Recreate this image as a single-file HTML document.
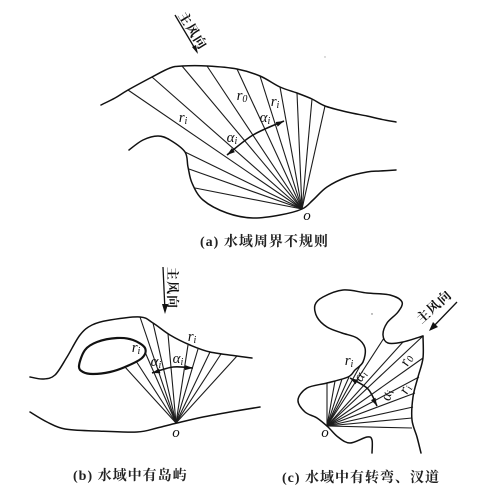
<!DOCTYPE html>
<html lang="zh">
<head>
<meta charset="utf-8">
<title>水域示意图</title>
<style>
html,body{margin:0;padding:0;background:#fff;width:483px;height:503px;overflow:hidden}
svg{display:block}
.shore{fill:none;stroke:#111;stroke-width:1.5;stroke-linejoin:round;stroke-linecap:round}
.thick{stroke-width:2.2}
.ray{stroke:#1c1c1c;stroke-width:1.1}
.arc{fill:none;stroke:#111;stroke-width:1.6}
.head{fill:#111;stroke:none}
.cap{font-family:"Liberation Serif","Noto Serif CJK SC",serif;font-size:14px;font-weight:700;letter-spacing:1px;fill:#222}
.wind{font-family:"Noto Serif CJK SC",serif;font-size:13px;font-weight:700;letter-spacing:1px;fill:#111;text-anchor:middle}
.sym{font-family:"Liberation Serif",serif;font-style:italic;font-size:15px;fill:#111;text-anchor:middle}
.sym tspan{font-size:10px}
</style>
</head>
<body>
<svg id="fig" width="483" height="503" viewBox="0 0 483 503" xmlns="http://www.w3.org/2000/svg">
  <g id="panel-a"></g>
  <g id="panel-b"></g>
  <g id="panel-c"></g>

  <text class="cap" x="200" y="246">(a) 水域周界不规则</text>
  <text class="cap" x="73" y="480">(b) 水域中有岛屿</text>
  <text class="cap" x="282" y="482">(c) 水域中有转弯、汊道</text>

  <text class="wind" transform="translate(189,33) rotate(58)">主风向</text>
  <text class="wind" transform="translate(168,288) rotate(90)">主风向</text>
  <text class="wind" transform="translate(437,310) rotate(-42)">主风向</text>

  <g><line x1="175" y1="15" x2="197" y2="52" stroke="#111" stroke-width="1.3"/><polygon class="head" points="198,54 192,47 196,45"/></g>
  <g><line x1="163" y1="267" x2="165" y2="311" stroke="#111" stroke-width="1.3"/><polygon class="head" points="165,314 162,304 168,304"/></g>
  <g><line x1="457" y1="302" x2="431" y2="329" stroke="#111" stroke-width="1.3"/><polygon class="head" points="429,331 433,322 438,327"/></g>

  <text class="sym" x="183" y="122">r<tspan dy="2">i</tspan></text>
  <text class="sym" x="242" y="100">r<tspan dy="2">0</tspan></text>
  <text class="sym" x="275" y="106">r<tspan dy="2">i</tspan></text>
  <text class="sym" x="232" y="142">α<tspan dy="2">i</tspan></text>
  <text class="sym" x="265" y="122">α<tspan dy="2">i</tspan></text>
  <text class="sym" x="307" y="220">o</text>

  <text class="sym" x="136" y="352">r<tspan dy="2">i</tspan></text>
  <text class="sym" x="192" y="341">r<tspan dy="2">i</tspan></text>
  <text class="sym" x="156" y="366">α<tspan dy="2">i</tspan></text>
  <text class="sym" x="178" y="363">α<tspan dy="2">i</tspan></text>
  <text class="sym" x="176" y="437">o</text>

  <text class="sym" x="349" y="365">r<tspan dy="2">i</tspan></text>
  <text class="sym" transform="translate(364,378) rotate(-60)">α<tspan dy="2">i</tspan></text>
  <text class="sym" transform="translate(391,396) rotate(-80)">α<tspan dy="2">i</tspan></text>
  <text class="sym" transform="translate(410,362) rotate(-65)">r<tspan dy="2">0</tspan></text>
  <text class="sym" transform="translate(409,391) rotate(-65)">r<tspan dy="2">i</tspan></text>
  <text class="sym" x="325" y="437">o</text>

  <circle cx="372" cy="314" r="0.7" fill="#666"/>
  <circle cx="325" cy="57" r="0.7" fill="#aaa"/>
</svg>
<script>
var NS = 'http://www.w3.org/2000/svg';

var originA = [302, 209];
var upperShoreA = [[101,105],[115,98],[128,90],[152,77],[170,68],[182,66],[207,66],[237,69],[260,76],[280,87],[297,93],[312,99],[325,106],[347,112],[367,116],[380,119],[396,122]];
var lowerShoreA = [[129,150],[143,140],[158,136],[170,140],[185,152],[188,167],[192,183],[203,200],[227,213],[253,218],[280,215],[302,209],[313,200],[327,187],[347,177],[367,172],[380,171],[396,170]];
var raysA = [[128,90],[152,77],[182,66],[207,66],[237,69],[260,76],[280,87],[297,93],[312,99],[325,106],[185,152],[189,169],[195,188]];
var arcA = [[227,155],[253,135],[284,121]];

var originB = [176, 423];
var upperShoreB = [[30,377],[43,379],[55,375],[67,357],[80,335],[92,325],[110,320],[140,317],[153,323],[170,335],[190,345],[210,352],[237,356],[252,358]];
var islandB = [[79,366],[85,350],[97,342],[117,338],[133,340],[145,348],[142,358],[125,367],[110,372],[93,374],[83,372]];
var lowerShoreB = [[30,412],[47,422],[65,429],[97,431],[137,432],[157,428],[177,423],[203,417],[230,412],[260,407]];
var raysB = [[125,367],[136,361],[145,352],[140,317],[153,323],[168,334],[188,345],[198,349],[210,352],[221,354],[237,356]];
var arcB = [[152,373],[173,367],[193,368]];

var originC = [327, 426];
var leftShoreC = [[372,453],[372,440],[367,437],[350,443],[338,437],[328,427],[317,418],[305,412],[298,400],[307,388],[327,383],[348,377],[355,370],[363,362],[365,348],[357,338],[342,333],[327,327],[317,317],[315,305],[323,297],[343,290],[367,293],[390,295],[402,302],[398,312],[387,323],[383,335],[388,343],[403,342],[423,336]];
var rightShoreC = [[423,336],[423,358],[418,377],[413,397],[412,420],[417,437],[421,453]];
var raysC = [[327,383],[335,381],[342,379],[349,377],[360,366],[384,338],[403,342],[423,336],[423,358],[419,377],[415,393],[413,407],[412,418],[412,428]];
var arcC = [[350,378],[368,389],[377,406]];

function smooth(p, closed) {
  var n = p.length, d = 'M' + p[0][0] + ' ' + p[0][1];
  var last = closed ? n : n - 1;
  for (var i = 0; i < last; i++) {
    var a = closed ? p[(i - 1 + n) % n] : p[Math.max(i - 1, 0)];
    var b = p[i];
    var c = closed ? p[(i + 1) % n] : p[i + 1];
    var e = closed ? p[(i + 2) % n] : p[Math.min(i + 2, n - 1)];
    d += ' C' + (b[0] + (c[0] - a[0]) / 6).toFixed(1) + ' ' + (b[1] + (c[1] - a[1]) / 6).toFixed(1) +
         ' ' + (c[0] - (e[0] - b[0]) / 6).toFixed(1) + ' ' + (c[1] - (e[1] - b[1]) / 6).toFixed(1) +
         ' ' + c[0] + ' ' + c[1];
  }
  return d + (closed ? ' Z' : '');
}

function drawShore(group, pts, closed, cls) {
  var el = document.createElementNS(NS, 'path');
  el.setAttribute('d', smooth(pts, closed));
  el.setAttribute('class', cls);
  
  
  group.appendChild(el);
}

function drawRays(group, origin, ends) {
  ends.forEach(function (e) {
    var el = document.createElementNS(NS, 'line');
    el.setAttribute('x1', origin[0]);
    el.setAttribute('y1', origin[1]);
    el.setAttribute('x2', e[0]);
    el.setAttribute('y2', e[1]);
    el.setAttribute('class', 'ray');
    
    
    group.appendChild(el);
  });
}

function arrowHead(tip, from) {
  var dx = from[0] - tip[0], dy = from[1] - tip[1];
  var len = Math.sqrt(dx * dx + dy * dy) || 1;
  dx /= len; dy /= len;
  var bx = tip[0] + dx * 8, by = tip[1] + dy * 8;
  return tip[0] + ',' + tip[1] + ' ' + (bx - dy * 2.5).toFixed(1) + ',' + (by + dx * 2.5).toFixed(1) + ' ' + (bx + dy * 2.5).toFixed(1) + ',' + (by - dx * 2.5).toFixed(1);
}

function drawArc(group, pts) {
  var el = document.createElementNS(NS, 'path');
  el.setAttribute('d', smooth(pts, false));
  el.setAttribute('class', 'arc');
  
  
  group.appendChild(el);
  var h1 = document.createElementNS(NS, 'polygon');
  h1.setAttribute('points', arrowHead(pts[0], pts[1]));
  h1.setAttribute('class', 'head');
  
  
  group.appendChild(h1);
  var h2 = document.createElementNS(NS, 'polygon');
  h2.setAttribute('points', arrowHead(pts[2], pts[1]));
  h2.setAttribute('class', 'head');
  
  
  group.appendChild(h2);
}

var a = document.getElementById('panel-a');
drawRays(a, originA, raysA);
drawShore(a, upperShoreA, false, 'shore');
drawShore(a, lowerShoreA, false, 'shore');
drawArc(a, arcA);

var b = document.getElementById('panel-b');
drawRays(b, originB, raysB);
drawShore(b, upperShoreB, false, 'shore');
drawShore(b, islandB, true, 'shore thick');
drawShore(b, lowerShoreB, false, 'shore');
drawArc(b, arcB);

var c = document.getElementById('panel-c');
drawRays(c, originC, raysC);
drawShore(c, leftShoreC, false, 'shore');
drawShore(c, rightShoreC, false, 'shore');
drawArc(c, arcC);
</script>
</body>
</html>
